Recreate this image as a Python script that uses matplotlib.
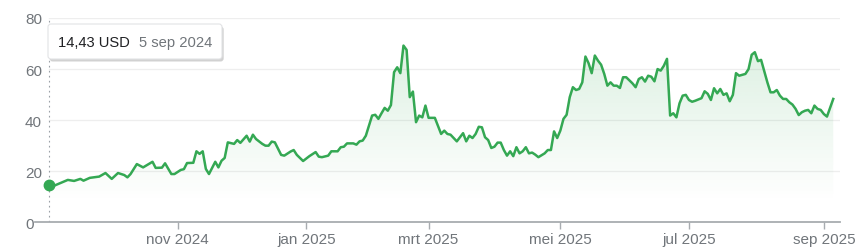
import numpy as np
import pandas as pd
import matplotlib
matplotlib.use('Agg')
from matplotlib import pyplot as plt
from matplotlib import transforms
from matplotlib.patches import FancyBboxPatch
import matplotlib.patheffects as pe

# trading calendar (one year, 5 sep 2024 - 5 sep 2025)
start_date = "2024-09-05"
end_date = "2025-09-05"
market_holidays = ["2024-11-28", "2024-12-25", "2025-01-01", "2025-01-09", "2025-01-20",
                   "2025-02-17", "2025-04-18", "2025-05-26", "2025-06-19", "2025-07-04",
                   "2025-09-01"]

# closing prices, x = trading day since start
trading_day = [0, 1, 6, 8, 10, 11, 13, 16, 18, 20, 22, 24, 25, 26, 28, 30, 33, 34, 36, 37, 39, 40,
               42, 43, 44, 46, 47, 48, 49, 50, 51, 53, 54, 55, 56, 57, 59, 60, 61, 63, 64, 65, 66,
               68, 69, 70, 71, 72, 74, 75, 77, 78, 79, 81,
               83, 85, 86, 87, 89, 90, 92, 93, 94, 95, 97, 98, 99, 100, 101, 102, 103, 104, 105,
               106, 107, 108, 109, 110, 111, 112, 113, 114, 115, 116, 117, 118, 119, 120,
               121, 123, 125, 126, 127, 128, 130, 131, 132, 133, 134, 135, 136, 137, 138, 139,
               140, 141, 142, 143, 144, 145, 146, 147, 148, 149, 150, 151, 152, 153, 154, 155,
               156, 158, 159, 160, 161, 162,
               163, 164, 165, 166, 167, 168, 169, 170, 171, 172, 173, 174, 175, 176, 177, 178,
               179, 180, 181, 182, 183, 184, 186, 187, 188, 189, 190, 191, 192, 193, 194, 195,
               196, 197, 198, 199, 200, 201, 202, 203,
               204, 205, 206, 208, 209, 210, 211, 212, 213, 214, 215, 216, 217, 218, 219, 220,
               222, 223, 224, 225, 226, 227, 229, 230, 231, 232, 233, 234, 235, 236, 237, 238,
               239, 240, 241, 242, 243, 244, 245, 246,
               247, 248, 250]
close_usd = [14.43, 14.0, 16.6, 16.2, 17.0, 16.3, 17.4, 17.9, 19.3, 17.0, 19.3, 18.5, 17.6, 18.9,
             22.8, 21.5, 23.7, 21.3, 21.4, 23.1, 18.9, 18.9,
             20.5, 20.8, 23.2, 23.3, 27.8, 26.8, 27.8, 20.9, 18.9, 23.7, 21.5, 24.1, 25.2, 31.3,
             30.7, 32.2, 31.1, 33.9, 31.6, 34.3, 32.6, 30.7, 30.0, 30.0, 31.6, 31.3, 26.4, 26.1,
             27.7, 28.3, 26.4, 24.0,
             25.9, 27.5, 25.7, 25.5, 26.1, 27.8, 27.8, 29.4, 29.6, 30.9, 30.9, 30.4, 31.7, 32.0,
             33.9, 37.8, 41.8, 42.1, 40.5, 42.7, 44.8, 43.7, 45.9, 58.8, 60.7, 58.4, 69.2, 67.5,
             49.0, 51.2, 39.2, 41.8, 41.1, 45.7,
             40.9, 40.9, 34.6, 35.9, 34.6, 34.3, 31.7, 33.3, 34.9, 31.7, 33.9, 33.0, 34.6, 37.4,
             37.2, 33.3, 32.2, 29.1, 29.6, 31.2, 31.2, 28.3, 26.1, 27.8, 25.9, 29.4, 27.0, 27.8,
             29.4, 27.0, 27.3, 26.5, 25.5, 27.0, 28.3, 28.3, 35.6, 33.0,
             35.9, 40.5, 42.1, 49.0, 52.9, 51.8, 52.2, 54.8, 64.9, 62.3, 58.4, 65.3, 63.3, 61.7,
             58.1, 53.5, 54.8, 53.5, 53.5, 52.6, 56.8, 56.8, 54.4, 52.9, 56.1, 56.8, 55.1, 57.4,
             57.0, 55.2, 60.0, 59.4, 61.3, 64.0, 41.8, 42.7, 41.1, 46.6, 49.6, 49.9,
             47.9, 47.2, 47.6, 48.6, 51.3, 50.3, 47.9, 52.5, 50.5, 52.2, 49.9, 50.5, 47.4, 49.9,
             58.4, 57.4, 58.1, 60.0, 65.6, 66.6, 63.1, 63.6, 54.8, 50.9, 50.9, 51.8, 49.6, 48.3,
             48.3, 47.0, 46.1, 44.4, 42.0, 43.1, 43.7, 44.0, 42.7, 45.7, 44.4, 44.0,
             42.4, 41.4, 48.3]

month_starts = ["2024-11-01", "2025-01-01", "2025-03-01", "2025-05-01", "2025-07-01", "2025-09-01"]
month_labels = ["nov 2024", "jan 2025", "mrt 2025", "mei 2025", "jul 2025", "sep 2025"]
y_ticks = [0, 20, 40, 60, 80]
tip_price = "14,43 USD"
tip_date = "5 sep 2024"

green = '#34a853'
label_gray = '#70757a'

plt.rcParams['font.family'] = ['Liberation Sans', 'DejaVu Sans']

days = pd.bdate_range(start_date, end_date, freq='C', holidays=market_holidays)
tick_pos = [days.searchsorted(pd.Timestamp(m)) for m in month_starts]

W, H = 867, 251
fig = plt.figure(figsize=(W / 100, H / 100), dpi=100)
ax = fig.add_axes([35 / W, (H - 223.3) / H, 805 / W, (223.3 - 19) / H])

px_per_day = 3.137
x_left = -(49 - 35) / px_per_day
x_right = (840 - 49) / px_per_day

# grid lines start at the first data point
for v in y_ticks[1:]:
    ax.plot([0, x_right], [v, v], color='#eeeeee', lw=0.9, zorder=0)

# gradient under the line
fill = ax.fill_between(trading_day, close_usd, 0, color='none', lw=0)
grad = np.zeros((256, 1, 4))
grad[..., :3] = matplotlib.colors.to_rgb(green)
grad[:, 0, 3] = np.linspace(0.17, 0.0, 256)
im = ax.imshow(grad, extent=[trading_day[0], trading_day[-1], 8, 70], origin='upper',
               aspect='auto', interpolation='bilinear', zorder=1)
im.set_clip_path(fill.get_paths()[0], transform=ax.transData)

ax.plot([0, 0], [0, 80], color='#9aa0a6', lw=0.8, ls=(0, (1.5, 3)), zorder=1.5)
ax.plot(trading_day, close_usd, color=green, lw=1.8, solid_joinstyle='round', zorder=3)
ax.plot(trading_day[0], close_usd[0], 'o', ms=7.5, color=green, zorder=4)

ax.set_xlim(x_left, x_right)
ax.set_ylim(0, 80)
for s in ['top', 'right', 'left']:
    ax.spines[s].set_visible(False)
ax.spines['bottom'].set_color('#a8acb0')
ax.spines['bottom'].set_linewidth(1.3)

ax.set_xticks(tick_pos, month_labels)
ax.set_yticks(y_ticks)
ax.tick_params(axis='x', length=5, width=1, color='#a8acb0', pad=2, labelcolor=label_gray,
               labelsize=11)
ax.tick_params(axis='y', length=0, pad=7.2, labelcolor=label_gray, labelsize=11)
for t in ax.get_yticklabels():
    t.set_horizontalalignment('left')

# tooltip in pixel coordinates (origin bottom-left)
px = transforms.Affine2D().scale(1 / W, 1 / H) + fig.transFigure
box = FancyBboxPatch((48, H - 60), 174, 35, boxstyle='round,pad=0,rounding_size=3',
                     transform=px, fc='white', ec='#e2e3e5', lw=0.8, zorder=5,
                     path_effects=[pe.SimplePatchShadow(offset=(1.2, -1.8), shadow_rgbFace='black',
                                                        alpha=0.18), pe.Normal()])
fig.add_artist(box)
fig.text(58, H - 43, tip_price, transform=px, va='center', ha='left', color='#202124',
         fontsize=10.6, zorder=6)
fig.text(139, H - 43, tip_date, transform=px, va='center', ha='left', color=label_gray,
         fontsize=10.6, zorder=6)

plt.savefig('out.png', dpi=100)
